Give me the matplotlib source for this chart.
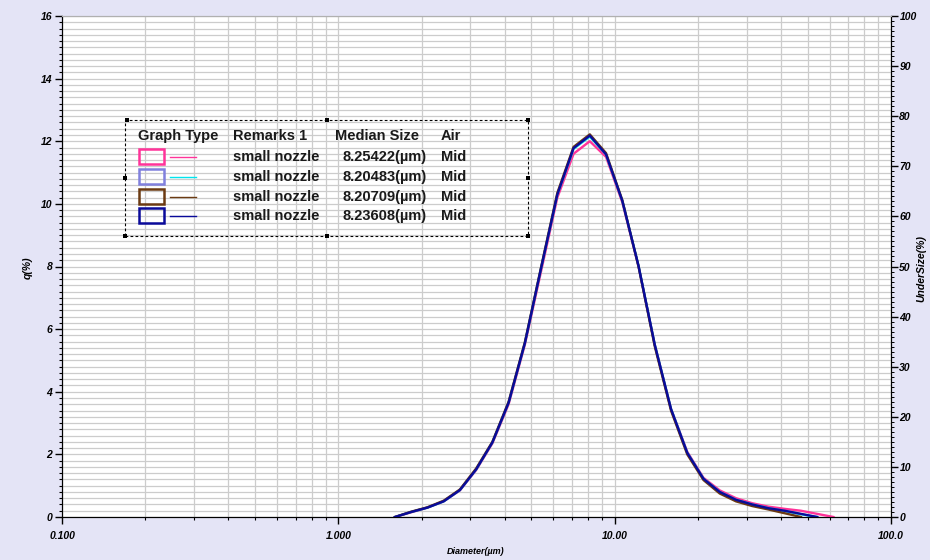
import numpy as np
import matplotlib
matplotlib.use("Agg")
import matplotlib.pyplot as plt
from matplotlib.ticker import FixedLocator, MultipleLocator, NullFormatter
from matplotlib.patches import Rectangle
from matplotlib.lines import Line2D

plt.rcParams['font.family'] = ['Liberation Sans', 'DejaVu Sans']

# particle size bins (um)
diam = [1.603, 1.835, 2.101, 2.405, 2.754, 3.153, 3.609, 4.132, 4.731, 5.417,
        6.202, 7.100, 8.129, 9.307, 10.656, 12.200, 13.968, 15.992, 18.310,
        20.962, 24.000, 27.478, 31.461, 36.020, 41.240, 47.217, 54.060, 61.894]

nan = np.nan
q_pink = [0.0, 0.15, 0.30, 0.50, 0.85, 1.50, 2.35, 3.60, 5.50, 7.85,
          10.2, 11.60, 12.00, 11.50, 10.05, 8.00, 5.50, 3.45, 2.08,
          1.25, 0.85, 0.60, 0.44, 0.33, 0.26, 0.20, 0.10, 0.0]
q_cyan = [0.0, 0.16, 0.30, 0.50, 0.86, 1.52, 2.38, 3.65, 5.55, 7.95,
          10.3, 11.76, 12.15, 11.58, 10.10, 8.02, 5.50, 3.45, 2.05,
          1.22, 0.80, 0.55, 0.40, 0.28, 0.19, 0.09, 0.0, nan]
q_brown = [0.0, 0.17, 0.31, 0.52, 0.88, 1.55, 2.40, 3.68, 5.58, 7.98,
           10.35, 11.82, 12.22, 11.62, 10.12, 8.00, 5.45, 3.40, 2.00,
           1.18, 0.75, 0.50, 0.35, 0.24, 0.12, 0.0, nan, nan]
q_blue = [0.0, 0.16, 0.30, 0.50, 0.86, 1.52, 2.38, 3.65, 5.55, 7.95,
          10.3, 11.78, 12.18, 11.58, 10.10, 8.02, 5.50, 3.45, 2.05,
          1.22, 0.80, 0.55, 0.40, 0.28, 0.20, 0.10, 0.0, nan]

series_colors = ['#ff3399', '#00e5ee', '#6b3a12', '#0a0a9a']
box_colors = ['#ff3399', '#8080dd', '#6b3a12', '#0a0a9a']
remarks = ['small nozzle'] * 4
medians = ['8.25422(\u00b5m)', '8.20483(\u00b5m)', '8.20709(\u00b5m)', '8.23608(\u00b5m)']
air = ['Mid'] * 4

W, H = 930, 560
fig = plt.figure(figsize=(W / 100, H / 100), dpi=100, facecolor='#e4e4f6')
ax = fig.add_axes([62 / W, 1 - 517 / H, (891 - 62) / W, (517 - 16) / H])
ax.set_facecolor('white')

for q, c in zip([q_pink, q_cyan, q_brown, q_blue], series_colors):
    ax.plot(diam, q, color=c, lw=1.7, zorder=3)

ax.set_xscale('log')
ax.set_xlim(0.1, 100)
ax.set_ylim(0, 16)

ax.xaxis.set_major_locator(FixedLocator([0.1, 1, 10, 100]))
ax.set_xticklabels(['0.100', '1.000', '10.00', '100.0'])
minors = [m * d for d in [0.1, 1, 10] for m in range(2, 10)]
ax.xaxis.set_minor_locator(FixedLocator(minors))
ax.xaxis.set_minor_formatter(NullFormatter())
ax.yaxis.set_major_locator(MultipleLocator(2))
ax.yaxis.set_minor_locator(MultipleLocator(0.2))

ax.grid(True, which='both', axis='both', color='#cccccc', lw=0.9, zorder=0)
ax.set_axisbelow(True)

tick_font = dict(fontsize=7.5, fontweight='bold', fontstyle='italic')
for lab in ax.get_xticklabels() + ax.get_yticklabels():
    lab.set_fontsize(7.5)
    lab.set_fontweight('bold')
    lab.set_fontstyle('italic')
ax.tick_params(which='major', length=5, width=1, color='black', pad=2)
ax.tick_params(which='minor', length=2.5, width=0.8, color='black')
ax.tick_params(axis='x', which='major', pad=5)

ax.spines['top'].set_color('#b0b0b0')
ax.spines['right'].set_color('black')

ax2 = ax.twinx()
ax2.set_ylim(0, 100)
ax2.yaxis.set_minor_locator(MultipleLocator(1))
ax2.set_yticks(range(0, 101, 10))
ax2.set_yticklabels([str(v) for v in range(0, 101, 10)], **tick_font)
ax2.tick_params(which='major', length=5, width=1, pad=1)
ax2.tick_params(which='minor', length=2.5, width=0.7)
ax2.spines['top'].set_color('#b0b0b0')

fig.text(28 / W, 1 - 268 / H, 'q(%)', rotation=90, ha='center', va='center',
         fontsize=7.5, fontweight='bold', fontstyle='italic')
fig.text(921 / W, 1 - 268 / H, 'UnderSize(%)', rotation=90, ha='center', va='center',
         fontsize=7.5, fontweight='bold', fontstyle='italic')
fig.text(476 / W, 1 - 551 / H, 'Diameter(\u00b5m)', ha='center', va='center',
         fontsize=6.5, fontweight='bold', fontstyle='italic')

# legend table with dashed selection frame
def fx(px):
    return px / W

def fy(py):
    return 1 - py / H

fig.patches.append(Rectangle((fx(125), fy(236)), fx(528) - fx(125), fy(120) - fy(236),
                             transform=fig.transFigure, fill=False, ec='black',
                             ls=(0, (2.5, 2)), lw=0.8, zorder=5))
for hx, hy in [(127, 120), (327, 120), (528, 120), (125, 178), (528, 178),
               (125, 236), (327, 236), (528, 236)]:
    fig.patches.append(Rectangle((fx(hx - 2), fy(hy + 2)), 4 / W, 4 / H,
                                 transform=fig.transFigure, fc='black', ec='none', zorder=6))

txt = dict(fontsize=10.5, fontweight='bold', va='center', ha='left', color='#1a1a1a')
fig.text(fx(138), fy(136), 'Graph Type', **txt)
fig.text(fx(233), fy(136), 'Remarks 1', **txt)
fig.text(fx(335), fy(136), 'Median Size', **txt)
fig.text(fx(441), fy(136), 'Air', **txt)
row_y = [157, 177, 197, 216]
for i in range(4):
    y = row_y[i]
    fig.patches.append(Rectangle((fx(139), fy(y + 7)), 25 / W, 15 / H,
                                 transform=fig.transFigure, fill=False,
                                 ec=box_colors[i], lw=1.8, zorder=6))
    fig.lines.append(Line2D([fx(170), fx(196)], [fy(y), fy(y)], transform=fig.transFigure,
                            color=series_colors[i], lw=1.0))
    fig.text(fx(233), fy(y), remarks[i], **txt)
    fig.text(fx(342), fy(y), medians[i], **txt)
    fig.text(fx(441), fy(y), air[i], **txt)

fig.savefig('out.png', dpi=100, facecolor=fig.get_facecolor())
